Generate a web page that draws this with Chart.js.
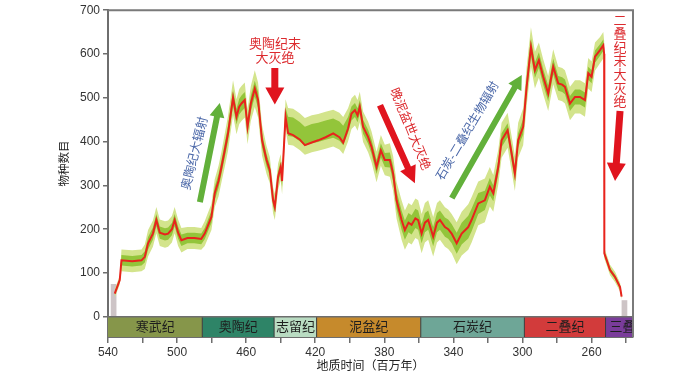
<!DOCTYPE html>
<html>
<head>
<meta charset="utf-8">
<script src="https://cdn.jsdelivr.net/npm/chart.js@4.4.1/dist/chart.umd.min.js"></script>
<style>
  html, body { margin: 0; padding: 0; background: #fff; }
</style>
</head>
<body>
<canvas id="chart" width="700" height="383"></canvas>
<script>
// age in Ma (reversed axis) and genus richness
const ages = [
  536.1, 533.2, 532.2, 526, 520.6, 518.7, 516.8, 514, 512, 510,
  507, 505.2, 503, 501.4, 499.4, 497.5, 494, 490, 486, 484,
  480.1, 478.2, 476, 474.3, 472.4, 470.5, 467.6, 465.6, 464, 462.7,
  460.8, 459.2, 457.3, 455, 453.1, 450.8, 448.2, 446.3, 444.4, 443.4,
  441.5, 440, 439.2, 437.2, 435.7, 432.8, 429, 426, 422, 418.3,
  414, 409.6, 406, 403.8, 401, 399, 397, 395.5, 394.2, 392.3,
  389.4, 387.4, 384.5, 382, 379.7, 376.8, 374.9, 372.9, 370, 368.1,
  366, 364.2, 362, 360.4, 358.4, 356.5, 354.6, 351.7, 349.5, 347.8,
  344.9, 343, 341, 338.1, 335.2, 331.4, 329.5, 325.6, 321.8, 318.9,
  316.9, 314, 312.1, 308.6, 306.3, 304.4, 302.5, 299.6, 297.6, 295.1,
  292.8, 290.5, 288, 285.1, 282.2, 279.3, 277, 275.4, 272.5, 269.6,
  266.7, 263.8, 261.9, 260, 258, 255.1, 253.2, 252.7, 252.6, 251.2,
  249.3, 246.4, 243.5, 242.6
];
const richness = [
  53, 84, 129, 127, 129, 137, 168, 190, 221, 192,
  188, 190, 200, 221, 192, 175, 180, 180, 178, 190,
  228, 282, 310, 342, 380, 419, 500, 457, 480, 487,
  495, 434, 487, 521, 495, 403, 358, 335, 266, 251,
  320, 342, 310, 457, 419, 415, 405, 392, 398, 403,
  410, 419, 410, 398, 430, 464, 472, 460, 479, 434,
  411, 388, 342, 380, 358, 358, 327, 266, 221, 198,
  215, 210, 225, 221, 190, 215, 221, 183, 215, 221,
  205, 200, 190, 168, 190, 205, 221, 259, 266, 297,
  282, 342, 403, 426, 373, 327, 403, 434, 525, 616,
  563, 586, 548, 510, 571, 533, 530, 525, 487, 502,
  502, 495, 556, 548, 594, 609, 620, 600, 145, 129,
  107, 91, 68, 46
];
// half widths of the outer (light) and inner (dark) uncertainty bands
const outerHalf = [
  10, 10, 25, 25, 25, 28, 30, 30, 30, 30,
  30, 30, 30, 30, 30, 28, 25, 25, 25, 28,
  30, 32, 35, 35, 38, 40, 40, 40, 40, 40,
  40, 40, 40, 42, 40, 35, 32, 30, 30, 30,
  30, 30, 30, 35, 42, 42, 42, 42, 42, 42,
  42, 42, 42, 42, 38, 35, 35, 35, 35, 35,
  35, 35, 35, 35, 35, 38, 40, 42, 45, 45,
  45, 45, 45, 45, 45, 45, 45, 45, 45, 45,
  45, 45, 45, 48, 50, 52, 52, 50, 50, 45,
  42, 40, 40, 40, 40, 40, 40, 42, 45, 45,
  42, 40, 40, 40, 40, 38, 38, 38, 38, 38,
  38, 38, 35, 35, 32, 30, 30, 30, 12, 12,
  12, 12, 10, 8
];
const innerHalf = [
  4, 4, 12, 12, 12, 13, 14, 14, 14, 14,
  14, 14, 14, 14, 14, 13, 12, 12, 12, 13,
  14, 15, 16, 16, 17, 18, 18, 18, 18, 18,
  18, 18, 18, 18, 18, 16, 14, 13, 13, 13,
  13, 13, 13, 16, 22, 22, 22, 22, 22, 22,
  22, 22, 22, 22, 18, 16, 16, 16, 16, 16,
  16, 16, 16, 16, 16, 17, 18, 20, 22, 22,
  22, 22, 22, 22, 22, 22, 22, 22, 22, 22,
  22, 22, 22, 24, 25, 26, 26, 24, 22, 20,
  18, 16, 16, 16, 16, 16, 16, 18, 20, 20,
  18, 18, 18, 18, 18, 17, 17, 17, 17, 17,
  17, 17, 15, 15, 14, 13, 13, 13, 5, 5,
  5, 5, 4, 3
];
// where the bands sit above the line rather than centred on it
const bandShift = [
  0, 0, 0, 0, 0, 0, 0, 0, 0, 0,
  0, 0, 0, 0, 0, 0, 0, 0, 0, 0,
  0, 0, 0, 0, 0, 0, 0, 0, 0, 0,
  0, 0, 0, 0, 0, 0, 0, 0, 0, 0,
  0, 0, 0, 5, 16, 18, 18, 20, 20, 18,
  16, 12, 14, 16, 8, 0, 0, 0, 0, 0,
  0, 0, 0, 0, 0, 0, 0, 0, 0, 0,
  0, 0, 0, 0, 0, 0, 0, 0, 0, 0,
  0, 0, 0, 0, 0, 0, 0, 0, 0, 0,
  0, 0, 0, 0, 0, 0, 0, 0, 0, 0,
  0, 0, 0, 0, 0, 0, 0, 0, 0, 0,
  0, 0, 0, 0, 0, 0, 0, 0, 0, 0,
  0, 0, 0, 0
];

const periodNames = ['寒武纪', '奥陶纪', '志留纪', '泥盆纪', '石炭纪', '二叠纪', '三叠纪'];
const periodStart = [540, 485.4, 443.8, 419.2, 358.9, 298.9, 251.9];
const periodEnd = [485.4, 443.8, 419.2, 358.9, 298.9, 251.9, 236];
const periodColors = ['#86964a', '#2e8467', '#b9dcc2', '#c68a2c', '#6ea697', '#d23b3b', '#7a3c9a'];

// grey stubs at both ends
const stubFrom = [538.4, 242.6];
const stubTo = [535.1, 239.3];
const stubHeight = [75, 38];

const xTicks = [540, 520, 500, 480, 460, 440, 420, 400, 380, 360, 340, 320, 300, 280, 260, 240];
const xLabels = [540, 500, 460, 420, 380, 340, 300, 260];
const yTicks = [0, 100, 200, 300, 400, 500, 600, 700];

const FONT = '"Liberation Sans", "Noto Sans CJK SC", sans-serif';
const RED = '#dc2a2e';
const BLUE = '#4a67a8';
const GREEN = '#62b03a';
const ARROW_RED = '#e0141e';

const pts = (arr) => ages.map((a, i) => ({ x: a, y: arr[i] }));
const band = (half, sign) => ages.map((a, i) => ({ x: a, y: richness[i] + bandShift[i] + sign * half[i] }));

function arrow(ctx, x1, y1, x2, y2, sw, hw, hl, color) {
  const dx = x2 - x1, dy = y2 - y1, len = Math.hypot(dx, dy);
  const ux = dx / len, uy = dy / len, nx = -uy, ny = ux;
  const bx = x2 - ux * hl, by = y2 - uy * hl;
  ctx.beginPath();
  ctx.moveTo(x1 + nx * sw / 2, y1 + ny * sw / 2);
  ctx.lineTo(bx + nx * sw / 2, by + ny * sw / 2);
  ctx.lineTo(bx + nx * hw / 2, by + ny * hw / 2);
  ctx.lineTo(x2, y2);
  ctx.lineTo(bx - nx * hw / 2, by - ny * hw / 2);
  ctx.lineTo(bx - nx * sw / 2, by - ny * sw / 2);
  ctx.lineTo(x1 - nx * sw / 2, y1 - ny * sw / 2);
  ctx.closePath();
  ctx.fillStyle = color;
  ctx.fill();
}

function rotatedText(ctx, text, x, y, deg, color, size) {
  ctx.save();
  ctx.translate(x, y);
  ctx.rotate(deg * Math.PI / 180);
  ctx.fillStyle = color;
  ctx.font = size + 'px ' + FONT;
  ctx.textAlign = 'center';
  ctx.textBaseline = 'middle';
  ctx.fillText(text, 0, 0);
  ctx.restore();
}

const backdrop = {
  id: 'backdrop',
  beforeDatasetsDraw(chart) {
    const { ctx, scales: { x, y } } = chart;
    ctx.save();
    ctx.fillStyle = '#cdc4c6';
    stubFrom.forEach((a, i) => {
      const l = x.getPixelForValue(a), r = x.getPixelForValue(stubTo[i]);
      const t = y.getPixelForValue(stubHeight[i]), b = y.getPixelForValue(0);
      ctx.fillRect(l, t, r - l, b - t);
    });
    // period bar
    const top = y.getPixelForValue(0), bot = chart.chartArea.bottom;
    periodNames.forEach((name, i) => {
      const l = x.getPixelForValue(periodStart[i]), r = x.getPixelForValue(periodEnd[i]);
      ctx.fillStyle = periodColors[i];
      ctx.fillRect(l, top, r - l, bot - top);
      ctx.save();
      ctx.beginPath();
      ctx.rect(l, top, r - l, bot - top);
      ctx.clip();
      ctx.fillStyle = '#1e1e1e';
      ctx.font = '13px ' + FONT;
      ctx.textBaseline = 'middle';
      if (i === periodNames.length - 1) {
        ctx.textAlign = 'left';
        ctx.fillText(name, l + 4, (top + bot) / 2);
      } else {
        ctx.textAlign = 'center';
        ctx.fillText(name, (l + r) / 2, (top + bot) / 2);
      }
      ctx.restore();
      if (i > 0) {
        ctx.strokeStyle = '#3a3a3a';
        ctx.lineWidth = 1;
        ctx.beginPath();
        ctx.moveTo(l, top);
        ctx.lineTo(l, bot);
        ctx.stroke();
      }
    });
    ctx.strokeStyle = '#6e6e6e';
    ctx.lineWidth = 1.5;
    ctx.beginPath();
    ctx.moveTo(chart.chartArea.left, top);
    ctx.lineTo(chart.chartArea.right, top);
    ctx.stroke();
    ctx.restore();
  },
  afterDraw(chart) {
    const { ctx, chartArea: ca, scales: { x, y } } = chart;
    const px = (a) => x.getPixelForValue(a);
    const py = (v) => y.getPixelForValue(v);
    ctx.save();
    // frame top and right
    ctx.strokeStyle = '#7a7a7a';
    ctx.lineWidth = 2;
    ctx.beginPath();
    ctx.moveTo(ca.left, ca.top);
    ctx.lineTo(ca.right, ca.top);
    ctx.lineTo(ca.right, ca.bottom);
    ctx.stroke();

    // axis titles
    rotatedText(ctx, '物种数目', ca.left - 43, py(350), -90, '#222', 11.5);
    ctx.fillStyle = '#222';
    ctx.font = '12px ' + FONT;
    ctx.textAlign = 'center';
    ctx.textBaseline = 'middle';
    ctx.fillText('地质时间（百万年）', (ca.left + ca.right) / 2, 367);

    // end-Ordovician extinction
    ctx.fillStyle = RED;
    ctx.font = '13px ' + FONT;
    ctx.fillText('奥陶纪末', px(443.3), py(623));
    ctx.fillText('大灭绝', px(443.3), py(591));
    arrow(ctx, px(443.4), py(568), px(443.4), py(485), 7, 19, 17, ARROW_RED);

    // Ordovician radiation
    arrow(ctx, px(486.8), py(262), px(475.3), py(488), 6, 15, 14, GREEN);
    rotatedText(ctx, '奥陶纪大辐射', px(489.5), py(373), -76, BLUE, 12.5);

    // Late Devonian extinction
    arrow(ctx, px(382.5), py(483), px(362.3), py(305), 6.5, 17, 17, ARROW_RED);
    rotatedText(ctx, '晚泥盆世大灭绝', px(365.3), py(428), 68, RED, 12.5);

    // Carboniferous-Permian radiation
    arrow(ctx, px(340.9), py(271), px(300.4), py(552), 6, 15, 14, GREEN);
    rotatedText(ctx, '石炭-二叠纪生物辐射', px(331.6), py(424), -59.6, BLUE, 12);

    // end-Permian extinction (stacked text)
    ctx.fillStyle = RED;
    ctx.font = '13px ' + FONT;
    '二叠纪末大灭绝'.split('').forEach((ch, i) => {
      ctx.fillText(ch, px(243.5), 21 + i * 13.6);
    });
    arrow(ctx, px(243.5), py(470), px(246.4), py(310), 7, 19, 18, ARROW_RED);
    ctx.restore();
  }
};

const axisFont = { size: 12, family: FONT };

new Chart(document.getElementById('chart'), {
  type: 'line',
  data: {
    datasets: [
      { data: pts(richness), order: 0, fill: false, borderColor: '#e8231c', borderWidth: 2 },
      { data: band(innerHalf, 1), order: 1, fill: '+1', backgroundColor: '#93c53a', borderWidth: 0 },
      { data: band(innerHalf, -1), order: 1, fill: false, borderWidth: 0 },
      { data: band(outerHalf, 1), order: 2, fill: '+1', backgroundColor: '#d3e48c', borderWidth: 0 },
      { data: band(outerHalf, -1), order: 2, fill: false, borderWidth: 0 }
    ]
  },
  options: {
    responsive: false,
    animation: false,
    layout: { padding: { left: 0, right: 67, top: 10, bottom: 0 } },
    plugins: { legend: { display: false }, tooltip: { enabled: false } },
    elements: { point: { radius: 0 }, line: { tension: 0 } },
    scales: {
      x: {
        type: 'linear',
        reverse: true,
        min: 236,
        max: 540,
        afterBuildTicks: (axis) => { axis.ticks = xTicks.map(v => ({ value: v })); },
        afterFit: (axis) => { axis.height = 46; },
        ticks: {
          autoSkip: false,
          maxRotation: 0,
          padding: 2,
          color: '#333',
          font: axisFont,
          callback: (v) => xLabels.includes(v) ? String(v) : ''
        },
        grid: { drawOnChartArea: false, tickLength: 6, color: '#6e6e6e', lineWidth: 1.5 },
        border: { color: '#6e6e6e', width: 2 }
      },
      y: {
        min: -46,
        max: 700,
        afterBuildTicks: (axis) => { axis.ticks = yTicks.map(v => ({ value: v })); },
        afterFit: (axis) => { axis.width = 108; },
        ticks: { padding: 3, color: '#333', font: axisFont },
        grid: { drawOnChartArea: false, tickLength: 5, color: '#6e6e6e', lineWidth: 1.5 },
        border: { color: '#6e6e6e', width: 2 }
      }
    }
  },
  plugins: [backdrop]
});
</script>
</body>
</html>
